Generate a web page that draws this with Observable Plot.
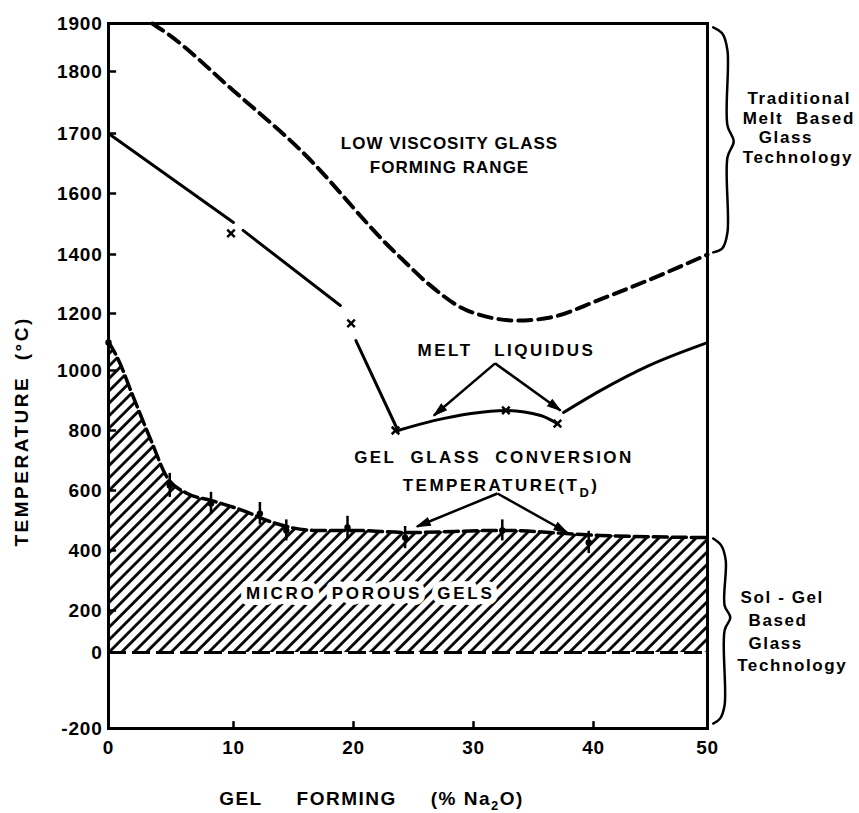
<!DOCTYPE html>
<html><head><meta charset="utf-8">
<script src="https://cdn.jsdelivr.net/npm/d3@7"></script>
<script src="https://cdn.jsdelivr.net/npm/@observablehq/plot@0.6"></script>
<style>
html,body{margin:0;padding:0;background:#fff;}
</style></head><body><div id="chart"></div>
<script>
// ---- axis ticks (the original uses a broken, irregular temperature axis)
const yTicks = [-200, 0, 200, 400, 600, 800, 1000, 1200, 1400, 1600, 1700, 1800, 1900];
const xTicks = [0, 10, 20, 30, 40, 50];

// ---- low viscosity glass forming boundary (dashed)
const viscPct  = [3.5, 4.7, 10.0, 15.6, 23.3, 23.9, 26.2, 29.5, 33.7, 36.4, 40.6, 45.0, 50];
const viscTemp = [1900, 1879, 1769, 1672, 1413, 1390, 1302, 1210, 1175, 1186, 1248, 1316, 1400];

// ---- melt liquidus (solid branches)
const liqA1Pct  = [0, 10.0];
const liqA1Temp = [1700, 1505];
const liqA2Pct  = [10.8, 18.9];
const liqA2Temp = [1479, 1227];
const liqA3Pct  = [20.2, 23.7];
const liqA3Temp = [1105, 800];
const liqBPct  = [23.7, 26.7, 29.8, 32.7, 35.6, 37.0];
const liqBTemp = [800, 833, 857, 867, 850, 823];
const liqCPct  = [37.5, 40.6, 44.9, 50];
const liqCTemp = [860, 933, 1018, 1098];
const liqMarkPct  = [9.8, 19.8, 23.5, 32.7, 37.0];
const liqMarkTemp = [1469, 1165, 800, 867, 823];

// ---- gel glass conversion temperature boundary
const gelPct  = [0, 0.7, 2.0, 3.4, 4.7, 6.3, 8.2, 10.8, 13.3, 16.7, 20.0, 24.5, 32.3, 40.6, 50];
const gelTemp = [1100, 1046, 910, 767, 643, 590, 567, 533, 493, 467, 467, 460, 467, 450, 443];
// measured T_D points with error bars
const tdPct  = [0, 4.9, 8.2, 12.2, 14.4, 19.5, 24.3, 32.4, 39.6];
const tdTemp = [1098, 617, 557, 523, 467, 477, 443, 467, 427];
const tdErr  = [40, 40, 37, 37, 35, 37, 37, 35, 37];

// ---- annotation arrows
const arrowFromPct  = [31.8, 31.8, 32.0, 32.0];
const arrowFromTemp = [1025, 1025, 590, 590];
const arrowToPct    = [26.7, 37.25, 25.3, 37.8];
const arrowToTemp   = [850, 867, 480, 460];

// ---- braces on the right
const braceUpPct   = [50.5, 51.3, 51.75, 51.75, 52.3, 51.75, 51.75, 51.3, 50.5];
const braceUpTemp  = [1892, 1879, 1844, 1713, 1687, 1660, 1472, 1420, 1407];
const braceLowPct  = [50.5, 51.2, 51.6, 51.5, 52.0, 51.5, 51.5, 51.1, 50.5];
const braceLowTemp = [440, 417, 367, 217, 167, 105, -139, -174, -187];

// ---- texts
const labelText = ["LOW\u00a0VISCOSITY\u00a0GLASS", "FORMING\u00a0RANGE", "MELT\u00a0\u00a0\u00a0LIQUIDUS",
  "GEL\u00a0\u00a0GLASS\u00a0\u00a0CONVERSION", "TEMPERATURE(TD)"];
const labelPct  = [28.0, 28.0, 32.75, 31.7, 32.3];
const labelTemp = [1683, 1643, 1070, 710, 617];
const labelSpacing = [1, 1, 2.5, 2.4, 2.5];
const gelLabel = ["MICRO\u00a0\u00a0POROUS\u00a0\u00a0GELS"];
const gelLabelPct = [21.4];
const gelLabelTemp = [257];

const sideText = ["Traditional", "Melt\u00a0\u00a0Based", "Glass", "Technology", "Sol\u00a0-\u00a0Gel", "Based", "Glass", "Technology"];
const sidePct  = [53.5, 53.1, 54.5, 53.1, 52.9, 53.6, 53.6, 52.6];
const sideTemp = [1756, 1724, 1693, 1660, 243, 152, 43, -34];

const xTitle = "GEL\u00a0\u00a0\u00a0\u00a0\u00a0FORMING\u00a0\u00a0\u00a0\u00a0\u00a0(%\u00a0Na2O)";
const yTitle = "TEMPERATURE\u00a0\u00a0(°C)";

// ---- broken axes: piecewise warp of the data units onto evenly drawn axis units
const yWarp = d3.scaleLinear().domain(yTicks).range([0, 76, 118, 178, 238, 298, 358, 415, 474, 535, 595, 657, 705]);
const xWarp = d3.scaleLinear().domain(xTicks).range([0, 125, 245, 365, 485, 599]);
const X = d => xWarp(d.x), Y = d => yWarp(d.T);

// ---- tables
const zipXY = (xs, ys) => xs.map((x, i) => ({x, T: ys[i]}));
const visc = zipXY(viscPct, viscTemp);
const liqSegs = [
  ...zipXY(liqA1Pct, liqA1Temp).map(d => ({...d, g: "a1"})),
  ...zipXY(liqA2Pct, liqA2Temp).map(d => ({...d, g: "a2"})),
  ...zipXY(liqA3Pct, liqA3Temp).map(d => ({...d, g: "a3"}))
];
const liqB = zipXY(liqBPct, liqBTemp);
const liqC = zipXY(liqCPct, liqCTemp);
const liqMarks = zipXY(liqMarkPct, liqMarkTemp);
const gel = zipXY(gelPct, gelTemp);
const td = tdPct.map((x, i) => ({x, T: tdTemp[i], lo: tdTemp[i] - tdErr[i], hi: tdTemp[i] + tdErr[i]}));
const arrows = arrowFromPct.map((x, i) => {
  const a = {x1: x, y1: arrowFromTemp[i], x2: arrowToPct[i], y2: arrowToTemp[i]};
  a.rot = Math.atan2(xWarp(a.x2) - xWarp(a.x1), yWarp(a.y2) - yWarp(a.y1)) * 180 / Math.PI;
  return a;
});
const braces = [
  ...braceUpPct.map((x, i) => ({x, T: braceUpTemp[i], g: "up"})),
  ...braceLowPct.map((x, i) => ({x, T: braceLowTemp[i], g: "low"}))
];
const labels = labelText.map((t, i) => ({t, x: labelPct[i], T: labelTemp[i]}));
const gelLabels = gelLabel.map((t, i) => ({t, x: gelLabelPct[i], T: gelLabelTemp[i]}));
const sides = sideText.map((t, i) => ({t, x: sidePct[i], T: sideTemp[i]}));

// filled, elongated arrowhead with its tip at the origin, pointing up
const arrowHead = {draw(ctx) { ctx.moveTo(0, 0); ctx.lineTo(4, 13); ctx.lineTo(-4, 13); ctx.closePath(); }};

const FONT = "'Liberation Sans', Arial, sans-serif";
const K = "#000";

const svg = Plot.plot({
  width: 859,
  height: 813,
  marginLeft: 108, marginRight: 152, marginTop: 23, marginBottom: 85,
  style: {fontFamily: FONT, fontWeight: "bold", background: "#fff", color: K, overflow: "visible"},
  x: {domain: [xWarp(0), xWarp(50)], axis: null},
  y: {domain: [yWarp(-200), yWarp(1900)], axis: null},
  marks: [
    // hatched micro porous gel region
    Plot.areaY(gel, {x: X, y1: () => yWarp(0), y2: Y, fill: "url(#hatch)", curve: "monotone-x"}),
    Plot.text(gelLabels, {x: X, y: Y, text: "t", fontSize: 17, fontWeight: "bold",
      textAnchor: "middle", lineAnchor: "middle", stroke: "#fff", strokeWidth: 12, fill: K}),
    Plot.line(gel, {x: X, y: Y, stroke: K, strokeWidth: 3.5, strokeDasharray: "14,5", curve: "monotone-x"}),
    Plot.ruleY([0], {y: d => yWarp(d), x1: xWarp(0), x2: xWarp(50), stroke: K, strokeWidth: 3, strokeDasharray: "18,6"}),
    // viscosity boundary
    Plot.line(visc, {x: X, y: Y, stroke: K, strokeWidth: 4, strokeDasharray: "13,7", curve: "monotone-x"}),
    // liquidus
    Plot.line(liqSegs, {x: X, y: Y, z: "g", stroke: K, strokeWidth: 3}),
    Plot.line(liqB, {x: X, y: Y, stroke: K, strokeWidth: 3, curve: "monotone-x"}),
    Plot.line(liqC, {x: X, y: Y, stroke: K, strokeWidth: 3, curve: "monotone-x"}),
    Plot.dot(liqMarks, {x: X, y: Y, symbol: "times", r: 3.5, stroke: K, strokeWidth: 2.5}),
    // T_D points with error bars
    Plot.ruleX(td, {x: X, y1: d => yWarp(d.lo), y2: d => yWarp(d.hi), stroke: K, strokeWidth: 2.5}),
    Plot.dot(td, {x: X, y: Y, r: 3.2, fill: K}),
    // arrows
    Plot.link(arrows, {x1: d => xWarp(d.x1), y1: d => yWarp(d.y1), x2: d => xWarp(d.x2), y2: d => yWarp(d.y2),
      stroke: K, strokeWidth: 2.5}),
    Plot.dot(arrows, {x: d => xWarp(d.x2), y: d => yWarp(d.y2), rotate: "rot", symbol: arrowHead, fill: K, stroke: K, strokeWidth: 1}),
    // frame and ticks
    Plot.frame({stroke: K, strokeWidth: 3}),
    Plot.ruleY(yTicks.slice(1, -1), {y: d => yWarp(d), x1: xWarp(0), x2: xWarp(0.65), stroke: K, strokeWidth: 2.5}),
    Plot.ruleX(xTicks.slice(1, -1), {x: d => xWarp(d), y1: yWarp(-200), y2: yWarp(-182), stroke: K, strokeWidth: 2.5}),
    Plot.axisY({ticks: yTicks.map(d => yWarp(d)), tickSize: 0, tickPadding: 6, fontSize: 19, fontWeight: "bold",
      tickFormat: u => String(Math.round(yWarp.invert(u))), label: null}),
    Plot.axisX({ticks: xTicks.map(d => xWarp(d)), tickSize: 0, tickPadding: 12, fontSize: 19, fontWeight: "bold",
      tickFormat: u => String(Math.round(xWarp.invert(u))), label: null}),
    // braces
    Plot.line(braces, {x: X, y: Y, z: "g", stroke: K, strokeWidth: 2.5, curve: "catmull-rom"}),
    // texts
    Plot.text(labels, {x: X, y: Y, text: "t", fontSize: 17, fontWeight: "bold", textAnchor: "middle", lineAnchor: "middle"}),
    Plot.text(sides, {x: X, y: Y, text: "t", fontSize: 17, fontWeight: "bold", textAnchor: "start", lineAnchor: "middle"}),
    Plot.text([yTitle], {x: xWarp(-6.9), y: yWarp(797), text: d => d, rotate: -90, fontSize: 19, fontWeight: "bold", lineAnchor: "middle"}),
    Plot.text([xTitle], {x: xWarp(21.5), frameAnchor: "bottom", dy: 70, text: d => d, fontSize: 19, fontWeight: "bold", lineAnchor: "middle"})
  ]
});

// hatch pattern definition
d3.select(svg).insert("defs", ":first-child").html(
  `<pattern id="hatch" patternUnits="userSpaceOnUse" width="8.8" height="8.8" patternTransform="rotate(45)">
     <line x1="1.5" y1="0" x2="1.5" y2="8.8" stroke="#000" stroke-width="2.8"/>
   </pattern>`);

// letter spacing of the hand lettering, and subscripts
const spacing = new Map([
  ...labelText.map((t, i) => [t, labelSpacing[i]]),
  ...gelLabel.map(t => [t, 2.8]),
  ...sideText.map(t => [t, 1.6]),
  [yTitle, 2.5], [xTitle, 1.5]
]);
d3.select(svg).selectAll("text").each(function() {
  const el = d3.select(this);
  const s = this.textContent;
  if (spacing.has(s)) el.attr("letter-spacing", spacing.get(s));
  else if (/^-?\d+$/.test(s)) el.attr("letter-spacing", 0.8);
  if (s === "TEMPERATURE(TD)") {
    el.text(null);
    el.append("tspan").text("TEMPERATURE(T");
    el.append("tspan").attr("dy", 6).attr("font-size", 13).text("D");
    el.append("tspan").attr("dy", -6).text(")");
  } else if (s === xTitle) {
    el.text(null);
    el.append("tspan").text(xTitle.replace("Na2O)", "Na"));
    el.append("tspan").attr("dy", 5).attr("font-size", 13).text("2");
    el.append("tspan").attr("dy", -5).text("O)");
  }
});
document.getElementById("chart").appendChild(svg);
</script>
</body></html>
